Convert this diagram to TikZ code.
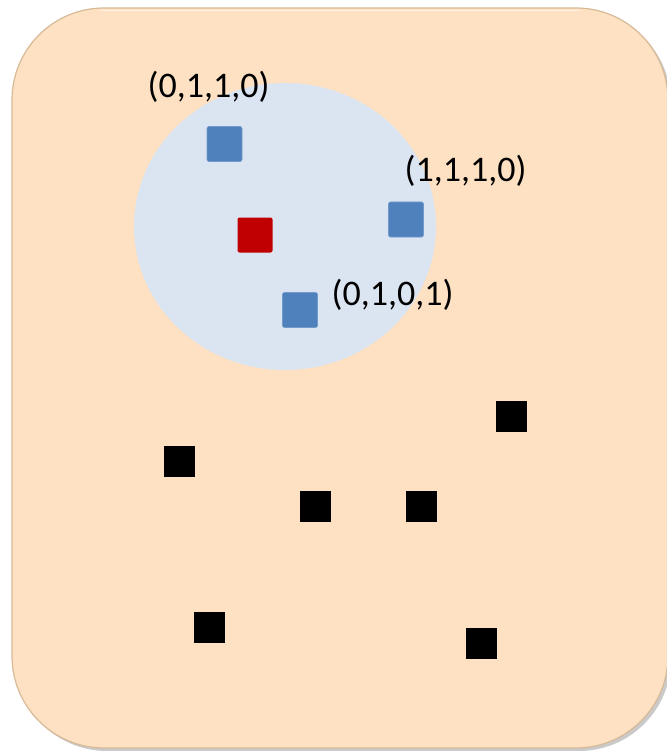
\documentclass[tikz,border=0pt]{standalone}
\usepackage{fontspec}
\setmainfont{Carlito}
\usetikzlibrary{shadows}
\definecolor{peach}{RGB}{253,225,194}
\definecolor{peachedge}{RGB}{214,186,152}
\definecolor{haze}{RGB}{219,228,241}
\definecolor{steel}{RGB}{79,129,189}
\definecolor{crimson}{RGB}{192,0,0}
\tikzset{
  panel/.style={fill=peach, draw=peachedge, line width=1.2pt, rounded corners=92pt,
    drop shadow={shadow xshift=3pt, shadow yshift=-3pt, opacity=0.35, fill=black!60}},
  member/.style={rectangle, fill=steel, draw=steel!80!white, line width=0.6pt,
    rounded corners=2pt, minimum size=35pt, inner sep=0pt},
  query/.style={rectangle, fill=crimson, rounded corners=2pt, minimum size=35pt, inner sep=0pt},
  outsider/.style={rectangle, fill=black, minimum size=31pt, inner sep=0pt},
  vec/.style={font=\fontsize{36}{40}\selectfont, inner sep=0pt}
}
\begin{document}
\begin{tikzpicture}[x=1pt, y=-1pt]
  \useasboundingbox (0,0) rectangle (666,751);
  % background panel
  \path[panel] (12,8) rectangle (668,748);
  % top highlight of the panel's bevel
  \draw[white, opacity=0.6, line width=1.5pt] (100,10.5) -- (580,10.5);
  % neighbourhood disc
  \fill[haze] (285,226.5) ellipse [x radius=151, y radius=143.5];
  % points inside the disc
  \node[member] (p1) at (224.5,144) {};
  \node[member] (p2) at (406,219.5) {};
  \node[member] (p3) at (300,310) {};
  \node[query]  (q)  at (255,235) {};
  % labels of the neighbours
  \node[vec] (l1) at (208.5,87) {(0,1,1,0)};
  \node[vec] (l2) at (465.5,171) {(1,1,1,0)};
  \node[vec] (l3) at (392.5,295) {(0,1,0,1)};
  % points outside the disc
  \node[outsider] (o1) at (179.5,461.5) {};
  \node[outsider] (o2) at (315.5,506.5) {};
  \node[outsider] (o3) at (421.5,506.5) {};
  \node[outsider] (o4) at (511.5,416.5) {};
  \node[outsider] (o5) at (209.5,627.5) {};
  \node[outsider] (o6) at (481.5,643.5) {};
\end{tikzpicture}
\end{document}
